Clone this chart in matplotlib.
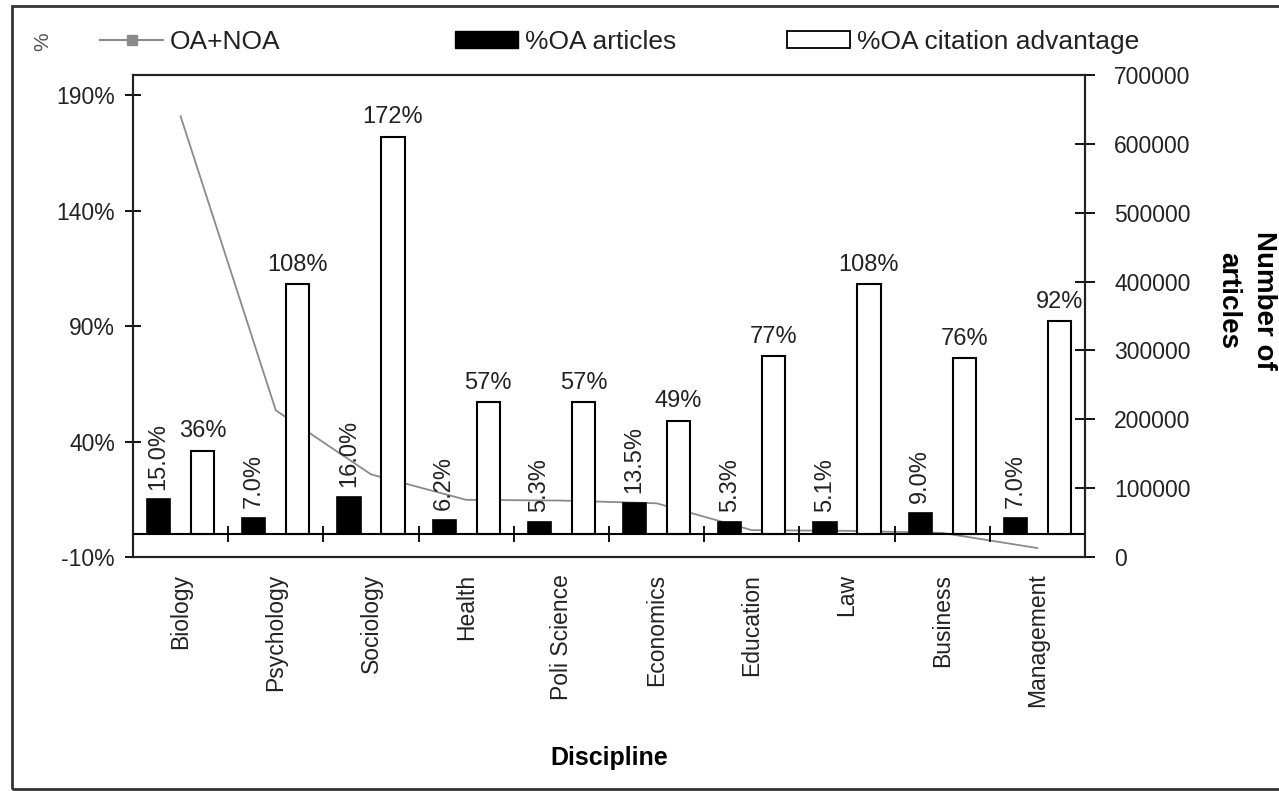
import matplotlib
matplotlib.use("Agg")
import matplotlib.pyplot as plt
import numpy as np
from matplotlib.lines import Line2D
from matplotlib.patches import Rectangle

plt.rcParams['font.family'] = ['Liberation Sans', 'DejaVu Sans']

categories = ['Biology', 'Psychology', 'Sociology', 'Health', 'Poli Science',
              'Economics', 'Education', 'Law', 'Business', 'Management']
oa_articles = [15.0, 7.0, 16.0, 6.2, 5.3, 13.5, 5.3, 5.1, 9.0, 7.0]
oa_advantage = [36, 108, 172, 57, 57, 49, 77, 108, 76, 92]
oa_noa_total = [640000, 213000, 120000, 83000, 82000, 78000, 39000, 38000, 35000, 13000]
left_ticks = [-10, 40, 90, 140, 190]
right_ticks = [0, 100000, 200000, 300000, 400000, 500000, 600000, 700000]

W, H = 1279, 791
fig = plt.figure(figsize=(W / 100, H / 100), dpi=100)
ax = fig.add_axes([133 / W, 1 - 557 / H, (1085 - 133) / W, (557 - 75) / H])
ax2 = ax.twinx()

x = np.arange(len(categories))
off = 0.231
bw = 0.245
ax.bar(x - off, oa_articles, bw, color='black', edgecolor='black', lw=1.2, zorder=3)
ax.bar(x + off, oa_advantage, bw, color='white', edgecolor='black', lw=1.5, zorder=3)

fs = 16.5
for xi, v in zip(x, oa_articles):
    ax.annotate(f'{v:.1f}%', (xi - off, v), xytext=(0, 7), textcoords='offset points',
                rotation=90, ha='center', va='bottom', fontsize=17, zorder=5,
                color='#222222')
for xi, v in zip(x, oa_advantage):
    ax.annotate(f'{v}%', (xi + off, v), xytext=(0, 6), textcoords='offset points',
                ha='center', va='bottom', fontsize=17, zorder=5, color='#222222')

ax.set_xlim(-0.5, len(categories) - 0.5)
ax.set_ylim(-10, 198.7)
ax.set_yticks(left_ticks)
ax.set_yticklabels([f'{t}%' for t in left_ticks])
ax.tick_params(axis='y', direction='inout', length=12, width=1.3, pad=7,
               labelsize=fs, labelcolor='#222222')

# category axis at zero
ax.axhline(0, color='black', lw=1.5, zorder=4)
bounds = np.arange(len(categories) - 1) + 0.5
ax.plot(bounds, np.zeros_like(bounds), ls='none', marker='|', ms=12, mew=1.3,
        color='black', zorder=4)

ax.set_xticks(x)
ax.set_xticklabels(categories, rotation=90, fontsize=fs, color='#222222')
ax.tick_params(axis='x', length=0, pad=12)
ax.set_xlabel('Discipline', fontsize=18, fontweight='bold',
              family=['Liberation Sans Narrow', 'Liberation Sans'], labelpad=28)

line, = ax2.plot(x, oa_noa_total, color='#8a8a8a', lw=1.3, zorder=2)
ax2.set_ylim(0, 700000)
ax2.set_yticks(right_ticks)
ax2.set_yticklabels([str(t) for t in right_ticks])
ax2.tick_params(axis='y', direction='inout', length=14, width=1.3, pad=14,
                labelsize=fs, labelcolor='#222222')
ax.set_zorder(ax2.get_zorder() + 1)
ax.patch.set_visible(False)

for a in (ax, ax2):
    for s in a.spines.values():
        s.set_linewidth(1.5)
        s.set_color('#222222')

# right axis label
fig.text(1246 / W, 1 - 300 / H, 'Number of\narticles', rotation=270, ha='center',
         va='center', fontsize=20, fontweight='bold', multialignment='center',
         family=['Liberation Sans Narrow', 'Liberation Sans'], linespacing=1.5)

# left axis label
fig.text(43 / W, 1 - 42 / H, '%', rotation=90, ha='center', va='center', fontsize=15,
         color='#555555')

# legends
proxy_line = Line2D([], [], color='#8a8a8a', lw=1.5, marker='s', ms=7,
                    markerfacecolor='#8a8a8a')
black_h = Rectangle((0, 0), 1, 1, facecolor='black', edgecolor='black')
white_h = Rectangle((0, 0), 1, 1, facecolor='white', edgecolor='black', lw=1.3)
for h, lab, xp in [(proxy_line, 'OA+NOA', 100), (black_h, '%OA articles', 455),
                   (white_h, '%OA citation advantage', 787)]:
    fig.legend([h], [lab], loc='center left', bbox_to_anchor=(xp / W, 1 - 42 / H),
               frameon=False, fontsize=19, handlelength=2.4, handleheight=0.6,
               handletextpad=0.25, borderpad=0, borderaxespad=0,
               labelcolor='#222222')

# outer frame
fig.add_artist(Rectangle((12 / W, 1 - 789 / H), 1.2, (789 - 6) / H,
                         transform=fig.transFigure, fill=False, edgecolor='#333333',
                         lw=2, clip_on=False))

fig.savefig('out.png', dpi=100)
